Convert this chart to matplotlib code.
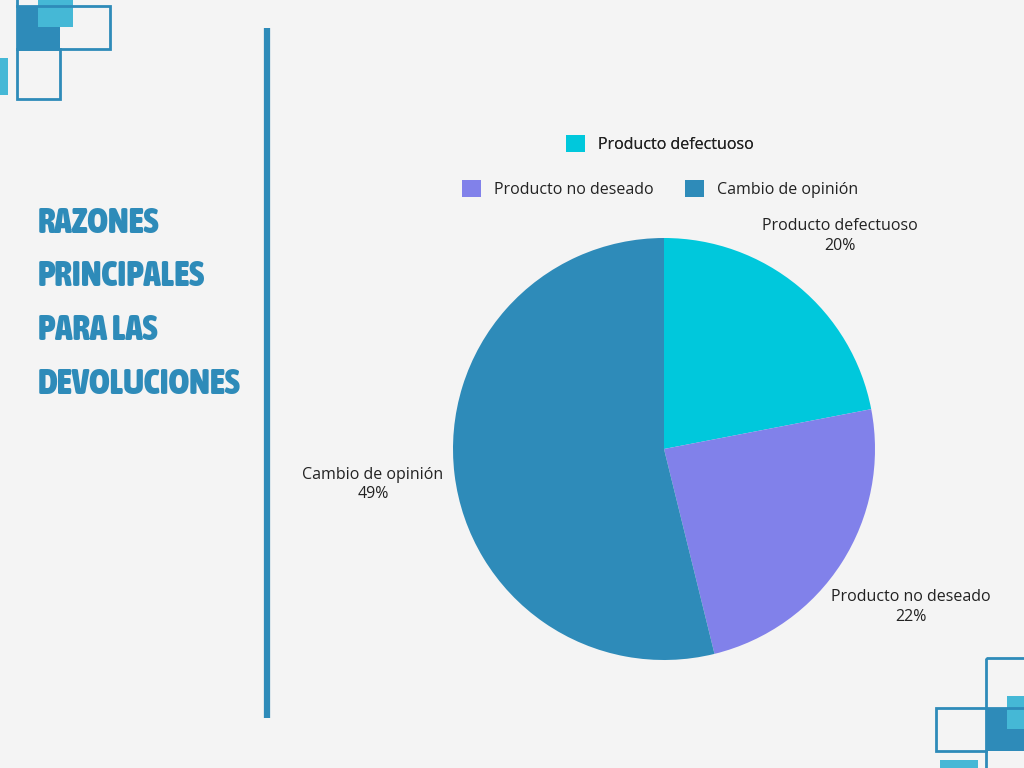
import numpy as np
import matplotlib.pyplot as plt
from matplotlib import font_manager
from matplotlib.font_manager import FontProperties
from matplotlib.patches import Rectangle

labels = ["Producto defectuoso", "Producto no deseado", "Cambio de opinión"]
values = [20, 22, 49]
colors = ["#00c8dc", "#8181ea", "#2e8bb9"]

title_lines = ["RAZONES", "PRINCIPALES", "PARA LAS", "DEVOLUCIONES"]

BG = "#f4f4f4"
DARK = "#2e8bb9"
LIGHT = "#45b8d6"


def pick_title_font():
    # look for a narrow / condensed bold face, the title uses a tall condensed font
    best = None
    for f in font_manager.fontManager.ttflist:
        narrow = ("Narrow" in f.name or "Condensed" in f.name
                  or f.stretch in ("condensed", "extra-condensed", "ultra-condensed", "semi-condensed"))
        if not narrow:
            continue
        w = f.weight if isinstance(f.weight, int) else (700 if "bold" in str(f.weight).lower() else 400)
        if "italic" in f.style or "oblique" in f.style:
            continue
        score = w
        if best is None or score > best[0]:
            best = (score, f.fname)
    if best:
        return FontProperties(fname=best[1])
    return FontProperties(family="DejaVu Sans", weight="bold")


fig = plt.figure(figsize=(10.24, 7.68), dpi=100, facecolor=BG)

# background layer in pixel coords
bg = fig.add_axes([0, 0, 1, 1])
bg.set_xlim(0, 1024)
bg.set_ylim(768, 0)
bg.axis("off")


def box(x0, y0, x1, y1, fill=None, edge=None, lw=2):
    if fill:
        bg.add_patch(Rectangle((x0, y0), x1 - x0, y1 - y0, facecolor=fill, edgecolor="none"))
    else:
        bg.add_patch(Rectangle((x0, y0), x1 - x0, y1 - y0, facecolor="none", edgecolor=edge, lw=lw))


# top-left decoration
box(17, 6, 60, 49, fill=DARK)
box(38, -2, 73, 27, fill=LIGHT)
box(-2, 58, 8, 95, fill=LIGHT)
box(17, 6, 110, 49, edge=DARK)
box(17, 49, 60, 99, edge=DARK)
bg.plot([17, 17], [-2, 6], color=DARK, lw=2)

# bottom-right decoration
box(986, 708, 1030, 751, fill=DARK)
box(1007, 696, 1030, 729, fill=LIGHT)
box(940, 760, 978, 770, fill=LIGHT)
box(986, 658, 1030, 708, edge=DARK)
box(936, 708, 986, 751, edge=DARK)
bg.plot([986, 986], [751, 770], color=DARK, lw=2)

# divider
bg.plot([267, 267], [28, 718], color=DARK, lw=4.5, solid_capstyle="butt")

# title, sized so the longest line is ~202 px wide
tfont = pick_title_font()
tfont.set_size(27)
title_texts = []
for i, line in enumerate(title_lines):
    t = bg.text(38, 223 + i * 53.5, line, fontproperties=tfont, color=DARK,
                ha="left", va="center")
    title_texts.append(t)
fig.canvas.draw()
r = fig.canvas.get_renderer()
widest = max(t.get_window_extent(r).width for t in title_texts)
new_size = 27 * 202 / widest
for t in title_texts:
    t.set_fontsize(new_size)

# pie
cx, cy, rad = 664, 449, 211
ax = fig.add_axes([(cx - rad) / 1024, (768 - cy - rad) / 768, 2 * rad / 1024, 2 * rad / 768])
wedges, _ = ax.pie(values, colors=colors, startangle=90, counterclock=False)
ax.set_xlim(-1, 1)
ax.set_ylim(-1, 1)
ax.set_aspect("equal")
ax.axis("off")

label_dist = [1.31, 1.39, 1.39]
for w, lab, v, d in zip(wedges, labels, values, label_dist):
    ang = np.deg2rad((w.theta1 + w.theta2) / 2)
    ax.text(d * np.cos(ang), d * np.sin(ang), f"{lab}\n{v}%", ha="center", va="center",
            fontsize=11.5, family="Open Sans", color="#222222", linespacing=1.3)

# legend: one item on top, two below
leg_kw = dict(frameon=False, handlelength=1.2, handleheight=1.2, handletextpad=0.8,
              prop=dict(family="Open Sans", size=11.5), labelcolor="#222222")
leg1 = fig.legend([wedges[0]], [labels[0]], loc="center",
                  bbox_to_anchor=(660 / 1024, 1 - 144 / 768), **leg_kw)
fig.legend(wedges[1:], labels[1:], loc="center", ncol=2, columnspacing=2.0,
           bbox_to_anchor=(660 / 1024, 1 - 189 / 768), **leg_kw)
fig.add_artist(leg1)

fig.savefig("out.png", dpi=100, facecolor=BG)
